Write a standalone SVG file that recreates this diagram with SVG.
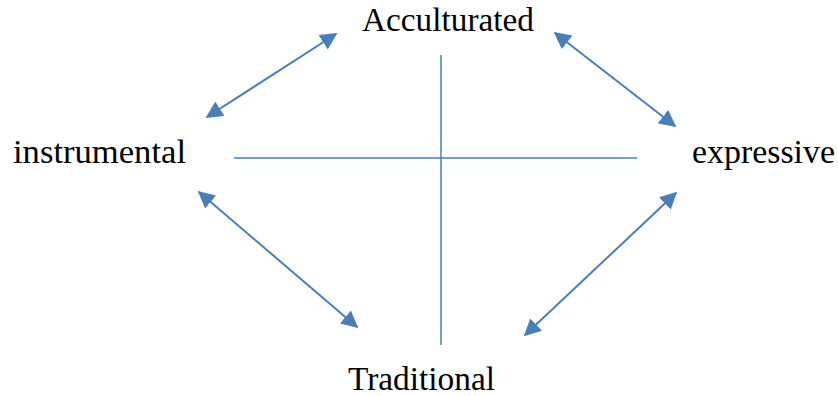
<svg xmlns="http://www.w3.org/2000/svg" width="838" height="396" viewBox="0 0 838 396">
<style>
.lbl{font-family:"Liberation Serif","DejaVu Serif",serif;font-size:33px;fill:#000}
.axis{stroke:#4A7EBB;stroke-width:1.5;fill:none}
.arr{stroke:#4A7EBB;stroke-width:2;fill:none;marker-start:url(#ah);marker-end:url(#ah)}
</style>
<defs>
<marker id="ah" viewBox="0 0 10 10" refX="9" refY="5" markerWidth="8.5" markerHeight="8.5" orient="auto-start-reverse" markerUnits="strokeWidth">
<path d="M0,0 L10,5 L0,10 z" fill="#4A7EBB"/>
</marker>
</defs>
<rect width="838" height="396" fill="#fff"/>
<g id="nodes">
<g id="acculturated"><text class="lbl" x="362" y="31" textLength="172" lengthAdjust="spacingAndGlyphs">Acculturated</text></g>
<g id="instrumental"><text class="lbl" x="13" y="163" textLength="173" lengthAdjust="spacingAndGlyphs">instrumental</text></g>
<g id="expressive"><text class="lbl" x="692" y="163" textLength="143" lengthAdjust="spacingAndGlyphs">expressive</text></g>
<g id="traditional"><text class="lbl" x="348" y="390" textLength="147" lengthAdjust="spacingAndGlyphs">Traditional</text></g>
</g>
<g id="connectors">
<line class="axis" x1="234" y1="158" x2="637" y2="158"/>
<line class="axis" x1="441" y1="55" x2="441" y2="345"/>
<line class="arr" x1="207" y1="117" x2="336" y2="34"/>
<line class="arr" x1="555" y1="33" x2="675" y2="126"/>
<line class="arr" x1="199" y1="192" x2="357" y2="327"/>
<line class="arr" x1="676" y1="193" x2="525" y2="335"/>
</g>
</svg>
